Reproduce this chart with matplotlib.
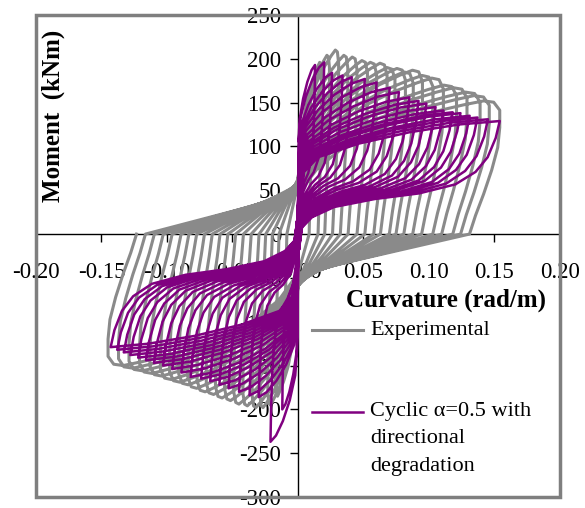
import numpy as np
import matplotlib
from matplotlib import pyplot as plt
from matplotlib.patches import Rectangle
from matplotlib.lines import Line2D

matplotlib.use('agg')

plt.rcParams['font.family'] = ['Liberation Serif', 'DejaVu Serif']
plt.rcParams['axes.unicode_minus'] = False

# experimental cycles: peak curvature (rad/m) and peak moment (kNm), + and - side
exp_xp = [0.010, 0.018, 0.024, 0.031, 0.038, 0.045, 0.053, 0.060, 0.068, 0.074,
          0.082, 0.088, 0.095, 0.103, 0.111, 0.121, 0.129, 0.139, 0.146, 0.154]
exp_mp = [150, 196, 204, 210, 204, 202, 198, 196, 195, 190,
          189, 185, 187, 181, 178, 170, 167, 162, 158, 152]
exp_xn = [0.010, 0.017, 0.023, 0.029, 0.035, 0.042, 0.049, 0.056, 0.063, 0.070,
          0.077, 0.084, 0.091, 0.098, 0.105, 0.113, 0.121, 0.129, 0.137, 0.145]
exp_mn = [150, 185, 195, 198, 198, 196, 194, 190, 187, 183,
          180, 176, 172, 169, 166, 162, 159, 156, 153, 150]

# model cycles (cyclic alpha=0.5 with directional degradation)
mod_xp = [0.013, 0.020, 0.026, 0.034, 0.041, 0.051, 0.060, 0.070, 0.077, 0.085,
          0.092, 0.098, 0.105, 0.111, 0.118, 0.124, 0.131, 0.137, 0.145, 0.154]
mod_mp = [193, 196, 184, 181, 179, 177, 173, 167, 162, 156,
          152, 149, 145, 141, 139, 138, 135, 133, 131, 129]
mod_xn = [0.012, 0.021, 0.030, 0.037, 0.045, 0.053, 0.060, 0.067, 0.074, 0.082,
          0.089, 0.096, 0.103, 0.110, 0.116, 0.122, 0.128, 0.133, 0.138, 0.143]
mod_mn = [200, 237, 186, 184, 180, 176, 172, 168, 165, 163,
          158, 154, 150, 147, 144, 141, 138, 135, 132, 129]

exp_half = [(0.0, 0.30), (0.1, 0.50), (0.25, 0.68), (0.45, 0.82), (0.65, 0.91),
            (0.82, 0.97), (0.92, 1.0), (0.97, 0.99), (1.0, 0.93), (1.0, 0.80),
            (0.99, 0.65), (0.96, 0.48), (0.92, 0.30), (0.88, 0.14), (0.85, 0.0)]
mod_half = [(0.03, 0.55), (0.1, 0.68), (0.3, 0.80), (0.55, 0.90), (0.8, 0.97),
            (1.0, 1.0), (0.98, 0.85), (0.94, 0.68), (0.88, 0.55), (0.78, 0.44),
            (0.6, 0.36), (0.38, 0.31), (0.18, 0.24), (0.07, 0.15), (0.02, 0.06)]


def loops(xp, mp, xn, mn, half):
    x, m = [], []
    for a, b, c, d in zip(xp, mp, xn, mn):
        for fx, fm in half:
            x.append(fx * a)
            m.append(fm * b)
        for fx, fm in half:
            x.append(-fx * c)
            m.append(-fm * d)
    return x, m


fig = plt.figure(figsize=(5.85, 5.08), dpi=100)
ax = fig.add_axes([36 / 585, 1 - 497 / 508, 524 / 585, 482 / 508])
ax.set_axisbelow(True)

ex, em = loops(exp_xp, exp_mp, exp_xn, exp_mn, exp_half)
mx, mm = loops(mod_xp, mod_mp, mod_xn, mod_mn, mod_half)
ax.plot(ex, em, color='#8a8a8a', lw=2.2, solid_joinstyle='round', zorder=3)
ax.plot(mx, mm, color='#800080', lw=1.8, solid_joinstyle='round', zorder=3)

ax.set_xlim(-0.20, 0.20)
ax.set_ylim(-300, 250)
ax.set_xticks(np.arange(-0.20, 0.201, 0.05))
ax.set_yticks(np.arange(-300, 251, 50))
ax.xaxis.set_major_formatter(matplotlib.ticker.FormatStrFormatter('%.2f'))
ax.tick_params(axis='both', direction='out', length=6, width=1, labelsize=16.5)
ax.tick_params(axis='x', pad=14)
ax.tick_params(axis='y', pad=6)

for s in ['top', 'right']:
    ax.spines[s].set_visible(False)
for s in ['left', 'bottom']:
    ax.spines[s].set_position(('data', 0))
    ax.spines[s].set_linewidth(1)
ax.add_patch(Rectangle((0, 0), 1, 1, transform=ax.transAxes, fill=False,
                       edgecolor='#7f7f7f', lw=2.5, clip_on=False, zorder=5))

fig.text(53 / 585, 1 - 116 / 508, 'Moment  (kNm)', rotation=90, fontsize=18,
         fontweight='bold', ha='center', va='center')
fig.text(446 / 585, 1 - 300 / 508, 'Curvature (rad/m)', fontsize=18,
         fontweight='bold', ha='center', va='center')

# legend
fig.add_artist(Line2D([312 / 585, 363 / 585], [1 - 330 / 508] * 2, color='#8a8a8a', lw=2.2))
fig.add_artist(Line2D([312 / 585, 363 / 585], [1 - 412 / 508] * 2, color='#800080', lw=1.8))
fig.text(370 / 585, 1 - 330 / 508, 'Experimental', fontsize=16, va='center')
fig.text(370 / 585, 1 - 402 / 508, 'Cyclic α=0.5 with\ndirectional\ndegradation',
         fontsize=16, va='top', linespacing=1.6)

plt.savefig('out.png', dpi=100)
plt.close()
